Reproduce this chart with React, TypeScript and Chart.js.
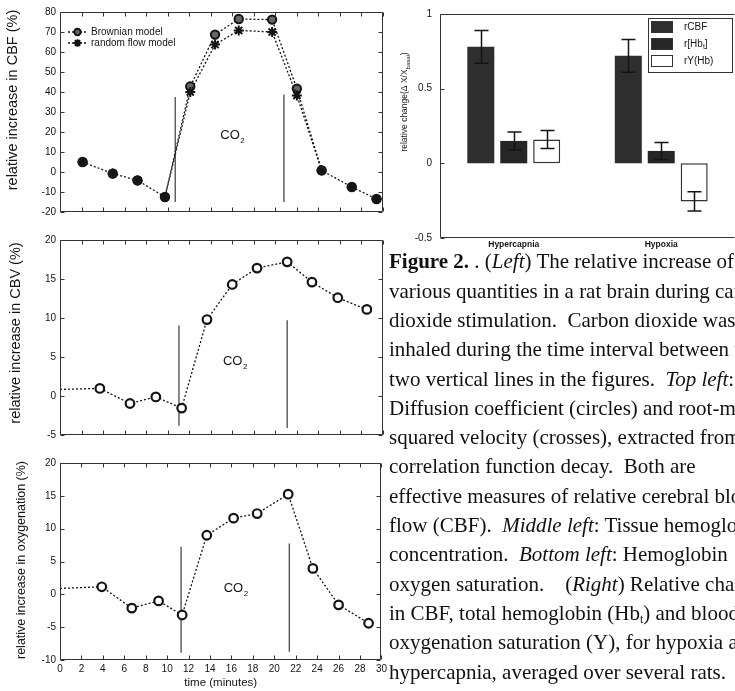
import React, { useEffect, useRef } from "react";
import { Chart, registerables } from "chart.js";
Chart.register(...registerables);

const SANS = '"Liberation Sans", Arial, Helvetica, sans-serif';
const SERIF = '"Liberation Serif", "Times New Roman", serif';
const INK = "#141414";

// ---------- Top left: CBF ----------
const cbfTimes = [2.1, 4.9, 7.2, 9.75, 12.1, 14.4, 16.6, 19.7, 22.0, 24.3, 27.1, 29.4];
const cbfBrownian = [5.0, -0.8, -4.2, -12.5, 42.8, 68.7, 76.5, 76.2, 41.7, 0.8, -7.5, -13.5];
const cbfRandomFlow = [5.0, -0.8, -4.2, -12.5, 40.0, 63.7, 70.8, 70.0, 38.3, 0.8, -7.5, -13.5];
const cbfCo2X = [10.7, 20.8];
const cbfCo2Top = [37.5, 38.7];
const cbfCo2Bottom = [-15, -15];
const cbfYTicks = [-20, 80, 10];

// ---------- Middle left: CBV ----------
const cbvTimes = [0, 3.7, 6.5, 8.9, 11.3, 13.65, 16.0, 18.3, 21.1, 23.4, 25.8, 28.5];
const cbvValues = [0.85, 0.97, -0.96, -0.12, -1.55, 9.8, 14.3, 16.4, 17.2, 14.6, 12.6, 11.1];
const cbvCo2X = [11.05, 21.1];
const cbvCo2Top = [9.05, 9.7];
const cbvCo2Bottom = [-3.8, -4.1];
const cbvYTicks = [-5, 20, 5];

// ---------- Bottom left: oxygenation ----------
const oxyTimes = [0, 3.9, 6.7, 9.2, 11.4, 13.7, 16.2, 18.4, 21.3, 23.6, 26.0, 28.8];
const oxyValues = [0.9, 1.15, -2.1, -1.0, -3.15, 9.0, 11.6, 12.3, 15.25, 3.95, -1.6, -4.4];
const oxyCo2X = [11.3, 21.4];
const oxyCo2Top = [7.25, 7.75];
const oxyCo2Bottom = [-8.9, -8.75];
const oxyYTicks = [-10, 20, 5];

const timeTicks = [0, 30, 2];

// ---------- Right: bar chart ----------
const barCategories = ["Hypercapnia", "Hypoxia"];
const rCBF = [0.78, 0.72];
const rCBFErr = [0.11, 0.11];
const rHbt = [0.15, 0.083];
const rHbtErr = [0.06, 0.057];
const rYHb = [0.16, -0.255];
const rYHbErr = [0.06, 0.065];
const barYTicks = [-0.5, 1, 0.5];

// ---------- helpers ----------
function drawCO2(ctx: CanvasRenderingContext2D, cx: number, cy: number, size: number) {
  ctx.save();
  ctx.fillStyle = INK;
  ctx.textBaseline = "middle";
  ctx.textAlign = "left";
  ctx.font = `${size}px ${SANS}`;
  const w1 = ctx.measureText("CO").width;
  ctx.font = `${size * 0.62}px ${SANS}`;
  const w2 = ctx.measureText("2").width;
  const x0 = cx - (w1 + w2) / 2;
  ctx.font = `${size}px ${SANS}`;
  ctx.fillText("CO", x0, cy);
  ctx.font = `${size * 0.62}px ${SANS}`;
  ctx.fillText("2", x0 + w1 + 0.5, cy + size * 0.42);
  ctx.restore();
}

function drawRotated(ctx: CanvasRenderingContext2D, parts: { t: string; sub?: boolean }[], x: number, y: number, size: number) {
  ctx.save();
  ctx.translate(x, y);
  ctx.rotate(-Math.PI / 2);
  ctx.fillStyle = INK;
  ctx.textBaseline = "middle";
  ctx.textAlign = "left";
  const widths = parts.map((p) => {
    ctx.font = `${p.sub ? size * 0.7 : size}px ${SANS}`;
    return ctx.measureText(p.t).width;
  });
  const total = widths.reduce((a, b) => a + b, 0);
  let cx = -total / 2;
  parts.forEach((p, i) => {
    ctx.font = `${p.sub ? size * 0.7 : size}px ${SANS}`;
    ctx.fillText(p.t, cx, p.sub ? size * 0.35 : 0);
    cx += widths[i];
  });
  ctx.restore();
}

function drawMarker(ctx: CanvasRenderingContext2D, kind: string, x: number, y: number, r: number) {
  ctx.save();
  ctx.strokeStyle = INK;
  ctx.lineWidth = 2;
  if (kind === "circle") {
    ctx.fillStyle = "#666";
    ctx.beginPath();
    ctx.arc(x, y, r, 0, Math.PI * 2);
    ctx.fill();
    ctx.stroke();
  } else {
    const d = r * 0.707;
    ctx.beginPath();
    ctx.moveTo(x - r, y); ctx.lineTo(x + r, y);
    ctx.moveTo(x, y - r); ctx.lineTo(x, y + r);
    ctx.moveTo(x - d, y - d); ctx.lineTo(x + d, y + d);
    ctx.moveTo(x - d, y + d); ctx.lineTo(x + d, y - d);
    ctx.stroke();
  }
  ctx.restore();
}

const framePlugin = {
  id: "frame",
  afterDatasetsDraw(chart: any, _args: any, opts: any) {
    const { ctx, chartArea: a } = chart;
    const xs = chart.scales.x;
    const ys = chart.scales.y;
    const L = Math.round(a.left) + 0.5;
    const R = Math.round(a.right) - 0.5;
    const T = Math.round(a.top) + 0.5;
    const B = Math.round(a.bottom) - 0.5;
    const len = 4;
    ctx.save();
    ctx.strokeStyle = "#333";
    ctx.lineWidth = 1;
    ctx.beginPath();
    ctx.moveTo(L, T); ctx.lineTo(R, T);
    ctx.moveTo(L, B); ctx.lineTo(R, B);
    ctx.moveTo(L, T); ctx.lineTo(L, B);
    if (opts.right !== false) { ctx.moveTo(R, T); ctx.lineTo(R, B); }
    if (opts.xTicks !== false) {
      for (const t of xs.ticks) {
        const p = Math.round(xs.getPixelForValue(t.value)) + 0.5;
        ctx.moveTo(p, B); ctx.lineTo(p, B - len);
        ctx.moveTo(p, T); ctx.lineTo(p, T + len);
      }
    }
    for (const t of ys.ticks) {
      const p = Math.round(ys.getPixelForValue(t.value)) + 0.5;
      ctx.moveTo(L, p); ctx.lineTo(L + len, p);
      if (opts.right !== false) { ctx.moveTo(R, p); ctx.lineTo(R - len, p); }
    }
    ctx.stroke();
    ctx.restore();
  },
};

function co2Lines(xs: number[], tops: number[], bottoms: number[]) {
  return xs.map((x, i) => ({
    data: [{ x, y: tops[i] }, { x, y: bottoms[i] }],
    borderColor: "#3a3a3a",
    borderWidth: 1.2,
    pointRadius: 0,
    fill: false,
    order: 3,
  }));
}

function series(times: number[], values: number[], extra: any) {
  return {
    data: times.map((t, i) => ({ x: t, y: values[i] })),
    borderColor: INK,
    borderWidth: 1.3,
    borderDash: [2, 2],
    fill: false,
    order: 1,
    ...extra,
  };
}

function lineConfig(o: {
  datasets: any[];
  yTicks: number[];
  padTop: number;
  xAxisH: number;
  xLabels: boolean;
  xTitle?: string;
  draw: (chart: any) => void;
}) {
  return {
    type: "line",
    data: { datasets: o.datasets },
    options: {
      animation: false,
      responsive: false,
      devicePixelRatio: 1,
      layout: { padding: { top: o.padTop, right: 7, left: 0, bottom: 0 } },
      plugins: { legend: { display: false }, tooltip: { enabled: false }, frame: {} },
      scales: {
        x: {
          type: "linear",
          min: timeTicks[0],
          max: timeTicks[1],
          grid: { display: false, drawTicks: false },
          border: { display: false },
          ticks: {
            display: o.xLabels,
            stepSize: timeTicks[2],
            autoSkip: false,
            maxRotation: 0,
            padding: 3,
            color: INK,
            font: { family: SANS, size: 10 },
          },
          title: {
            display: !!o.xTitle,
            text: o.xTitle || "",
            color: INK,
            font: { family: SANS, size: 11.5 },
            padding: { top: 0, bottom: 1 },
          },
          afterFit: (s: any) => { s.height = o.xAxisH; },
        },
        y: {
          min: o.yTicks[0],
          max: o.yTicks[1],
          grid: { display: false, drawTicks: false },
          border: { display: false },
          ticks: { stepSize: o.yTicks[2], padding: 4, color: INK, font: { family: SANS, size: 10 } },
          afterFit: (s: any) => { s.width = 60; },
        },
      },
    },
    plugins: [framePlugin, { id: "extras", afterDraw: o.draw }],
  };
}

function buildCBF() {
  // the random-flow line is hidden where it coincides with the Brownian line
  const sameSegment = (c: any) =>
    cbfRandomFlow[c.p0DataIndex] === cbfBrownian[c.p0DataIndex] &&
    cbfRandomFlow[c.p1DataIndex] === cbfBrownian[c.p1DataIndex];
  return lineConfig({
    datasets: [
      ...co2Lines(cbfCo2X, cbfCo2Top, cbfCo2Bottom),
      series(cbfTimes, cbfRandomFlow, {
        pointStyle: "star",
        pointRadius: 5,
        pointBorderWidth: 2,
        pointBorderColor: INK,
        segment: { borderColor: (c: any) => (sameSegment(c) ? "rgba(0,0,0,0)" : INK) },
      }),
      series(cbfTimes, cbfBrownian, { pointStyle: "circle", pointRadius: 4.2, pointBorderWidth: 2, pointBorderColor: INK, pointBackgroundColor: "#666" }),
    ],
    yTicks: cbfYTicks,
    padTop: 12,
    xAxisH: 10,
    xLabels: false,
    draw: (chart: any) => {
      const { ctx, scales } = chart;
      drawCO2(ctx, scales.x.getPixelForValue(16.0), scales.y.getPixelForValue(18.3), 13);
      drawRotated(ctx, [{ t: "relative increase in CBF (%)" }], 13, 100, 14.5);
      const rows = [
        { kind: "circle", text: "Brownian model", y: 32 },
        { kind: "star", text: "random flow model", y: 43 },
      ];
      ctx.save();
      for (const r of rows) {
        ctx.strokeStyle = INK;
        ctx.lineWidth = 1.3;
        ctx.setLineDash([2, 2]);
        ctx.beginPath();
        ctx.moveTo(68, r.y); ctx.lineTo(87, r.y);
        ctx.stroke();
        ctx.setLineDash([]);
        drawMarker(ctx, r.kind, 77.5, r.y, r.kind === "circle" ? 3.2 : 3.8);
        ctx.fillStyle = INK;
        ctx.font = `10px ${SANS}`;
        ctx.textAlign = "left";
        ctx.textBaseline = "middle";
        ctx.fillText(r.text, 91, r.y);
      }
      ctx.restore();
    },
  });
}

function buildCBV() {
  return lineConfig({
    datasets: [
      ...co2Lines(cbvCo2X, cbvCo2Top, cbvCo2Bottom),
      series(cbvTimes, cbvValues, {
        pointStyle: "circle",
        pointRadius: cbvTimes.map((t, i) => (i === 0 ? 0 : 4.3)),
        pointBorderWidth: 2.2,
        pointBorderColor: INK,
        pointBackgroundColor: "#fff",
      }),
    ],
    yTicks: cbvYTicks,
    padTop: 15,
    xAxisH: 7,
    xLabels: false,
    draw: (chart: any) => {
      const { ctx, scales } = chart;
      drawCO2(ctx, scales.x.getPixelForValue(16.25), scales.y.getPixelForValue(4.4), 13);
      drawRotated(ctx, [{ t: "relative increase in CBV (%)" }], 16, 108, 14.5);
    },
  });
}

function buildOxy() {
  return lineConfig({
    datasets: [
      ...co2Lines(oxyCo2X, oxyCo2Top, oxyCo2Bottom),
      series(oxyTimes, oxyValues, {
        pointStyle: "circle",
        pointRadius: oxyTimes.map((t, i) => (i === 0 ? 0 : 4.3)),
        pointBorderWidth: 2.2,
        pointBorderColor: INK,
        pointBackgroundColor: "#fff",
      }),
    ],
    yTicks: oxyYTicks,
    padTop: 13,
    xAxisH: 31,
    xLabels: true,
    xTitle: "time (minutes)",
    draw: (chart: any) => {
      const { ctx, scales } = chart;
      drawCO2(ctx, scales.x.getPixelForValue(16.4), scales.y.getPixelForValue(0.9), 13);
      drawRotated(ctx, [{ t: "relative increase in oxygenation (%)" }], 22, 110, 12.5);
    },
  });
}

const errorBarPlugin = {
  id: "errorBars",
  afterDatasetsDraw(chart: any) {
    const { ctx } = chart;
    const ys = chart.scales.y;
    const errs = [rCBFErr, rHbtErr, rYHbErr];
    ctx.save();
    ctx.strokeStyle = INK;
    ctx.lineWidth = 1.5;
    chart.data.datasets.forEach((ds: any, i: number) => {
      const meta = chart.getDatasetMeta(i);
      meta.data.forEach((el: any, j: number) => {
        const v = ds.data[j];
        const e = errs[i][j];
        const x = Math.round(el.x) + 0.5;
        const yTop = ys.getPixelForValue(v + e);
        const yBot = ys.getPixelForValue(v - e);
        ctx.beginPath();
        ctx.moveTo(x, yTop); ctx.lineTo(x, yBot);
        ctx.moveTo(x - 7, yTop); ctx.lineTo(x + 7, yTop);
        ctx.moveTo(x - 7, yBot); ctx.lineTo(x + 7, yBot);
        ctx.stroke();
      });
    });
    ctx.restore();
  },
};

function buildBars() {
  const common = { categoryPercentage: 0.67, barPercentage: 0.82, borderSkipped: false };
  return {
    type: "bar",
    data: {
      labels: barCategories,
      datasets: [
        { label: "rCBF", data: rCBF, backgroundColor: "#2e2e2e", borderColor: "#222", borderWidth: 0, ...common },
        { label: "r[Hbt]", data: rHbt, backgroundColor: "#262626", borderColor: "#222", borderWidth: 0, ...common },
        { label: "rY(Hb)", data: rYHb, backgroundColor: "#ffffff", borderColor: "#333", borderWidth: 1.5, ...common },
      ],
    },
    options: {
      animation: false,
      responsive: false,
      devicePixelRatio: 1,
      layout: { padding: { top: 14, right: 0, left: 0, bottom: 0 } },
      plugins: { legend: { display: false }, tooltip: { enabled: false }, frame: { right: false, xTicks: false } },
      scales: {
        x: {
          grid: { display: false, drawTicks: false },
          border: { display: false },
          ticks: { padding: 2, color: INK, font: { family: SANS, size: 8.5, weight: "bold" } },
          afterFit: (s: any) => { s.height = 14; },
        },
        y: {
          min: barYTicks[0],
          max: barYTicks[1],
          grid: { display: false, drawTicks: false },
          border: { display: false },
          ticks: {
            stepSize: barYTicks[2],
            padding: 8,
            color: INK,
            font: { family: SANS, size: 10 },
            callback: (v: any) => String(v),
          },
          afterFit: (s: any) => { s.width = 60; },
        },
      },
    },
    plugins: [
      framePlugin,
      errorBarPlugin,
      {
        id: "barExtras",
        afterDraw(chart: any) {
          const { ctx } = chart;
          drawRotated(
            ctx,
            [{ t: "relative change(\u0394 X/X" }, { t: "basal", sub: true }, { t: ")" }],
            25,
            102,
            8.5
          );
          ctx.save();
          ctx.fillStyle = "#fff";
          ctx.strokeStyle = "#333";
          ctx.lineWidth = 1;
          ctx.fillRect(268.5, 18.5, 84, 54);
          ctx.strokeRect(268.5, 18.5, 84, 54);
          const rows = [
            { fill: "#2e2e2e", parts: [{ t: "rCBF" }], y: 27 },
            { fill: "#262626", parts: [{ t: "r[Hb" }, { t: "t", sub: true }, { t: "]" }], y: 44 },
            { fill: "#ffffff", parts: [{ t: "rY(Hb)" }], y: 61 },
          ];
          for (const r of rows) {
            ctx.fillStyle = r.fill;
            ctx.fillRect(271, r.y - 6, 22, 12);
            ctx.strokeStyle = "#333";
            ctx.strokeRect(271.5, r.y - 5.5, 21, 11);
            let x = 304;
            ctx.fillStyle = INK;
            ctx.textBaseline = "middle";
            ctx.textAlign = "left";
            for (const p of r.parts) {
              ctx.font = `${p.sub ? 7 : 10}px ${SANS}`;
              ctx.fillText(p.t, x, p.sub ? r.y + 3 : r.y);
              x += ctx.measureText(p.t).width;
            }
          }
          ctx.restore();
        },
      },
    ],
  };
}

function ChartCanvas(props: { left: number; top: number; width: number; height: number; build: () => any }) {
  const ref = useRef<HTMLCanvasElement>(null);
  useEffect(() => {
    const chart = new Chart(ref.current as HTMLCanvasElement, props.build());
    return () => chart.destroy();
  }, []);
  return (
    <canvas
      ref={ref}
      width={props.width}
      height={props.height}
      style={{ position: "absolute", left: props.left, top: props.top, width: props.width, height: props.height }}
    />
  );
}

const captionLines: React.ReactNode[] = [
  <><b>Figure 2.</b> . (<i>Left</i>) The relative increase of</>,
  <>various quantities in a rat brain during carbon</>,
  <>dioxide stimulation.  Carbon dioxide was</>,
  <>inhaled during the time interval between the</>,
  <>two vertical lines in the figures.  <i>Top left</i>:</>,
  <>Diffusion coefficient (circles) and root-mean</>,
  <>squared velocity (crosses), extracted from the</>,
  <>correlation function decay.  Both are</>,
  <>effective measures of relative cerebral blood</>,
  <>flow (CBF).  <i>Middle left</i>: Tissue hemoglobin</>,
  <>concentration.  <i>Bottom left</i>: Hemoglobin</>,
  <>oxygen saturation.    (<i>Right</i>) Relative changes</>,
  <>in CBF, total hemoglobin (Hb<sub style={{ fontSize: 12, verticalAlign: -3 }}>t</sub>) and blood</>,
  <>oxygenation saturation (Y), for hypoxia and</>,
  <>hypercapnia, averaged over several rats.</>,
];

export default function App() {
  const lh = 29.3;
  return (
    <div style={{ position: "fixed", left: 0, top: 0, width: 735, height: 691, overflow: "hidden", background: "#fff" }}>
      <ChartCanvas left={0} top={0} width={390} height={222} build={buildCBF} />
      <ChartCanvas left={0} top={225} width={390} height={220} build={buildCBV} />
      <ChartCanvas left={0} top={450} width={390} height={241} build={buildOxy} />
      <ChartCanvas left={380} top={0} width={355} height={252} build={buildBars} />
      {captionLines.map((line, i) => (
        <div
          key={i}
          style={{
            position: "absolute",
            left: 389,
            top: 262 - lh / 2 + i * lh,
            height: lh,
            lineHeight: `${lh}px`,
            whiteSpace: "pre",
            fontFamily: SERIF,
            fontSize: 21,
            color: "#111",
          }}
        >
          {line}
        </div>
      ))}
    </div>
  );
}
